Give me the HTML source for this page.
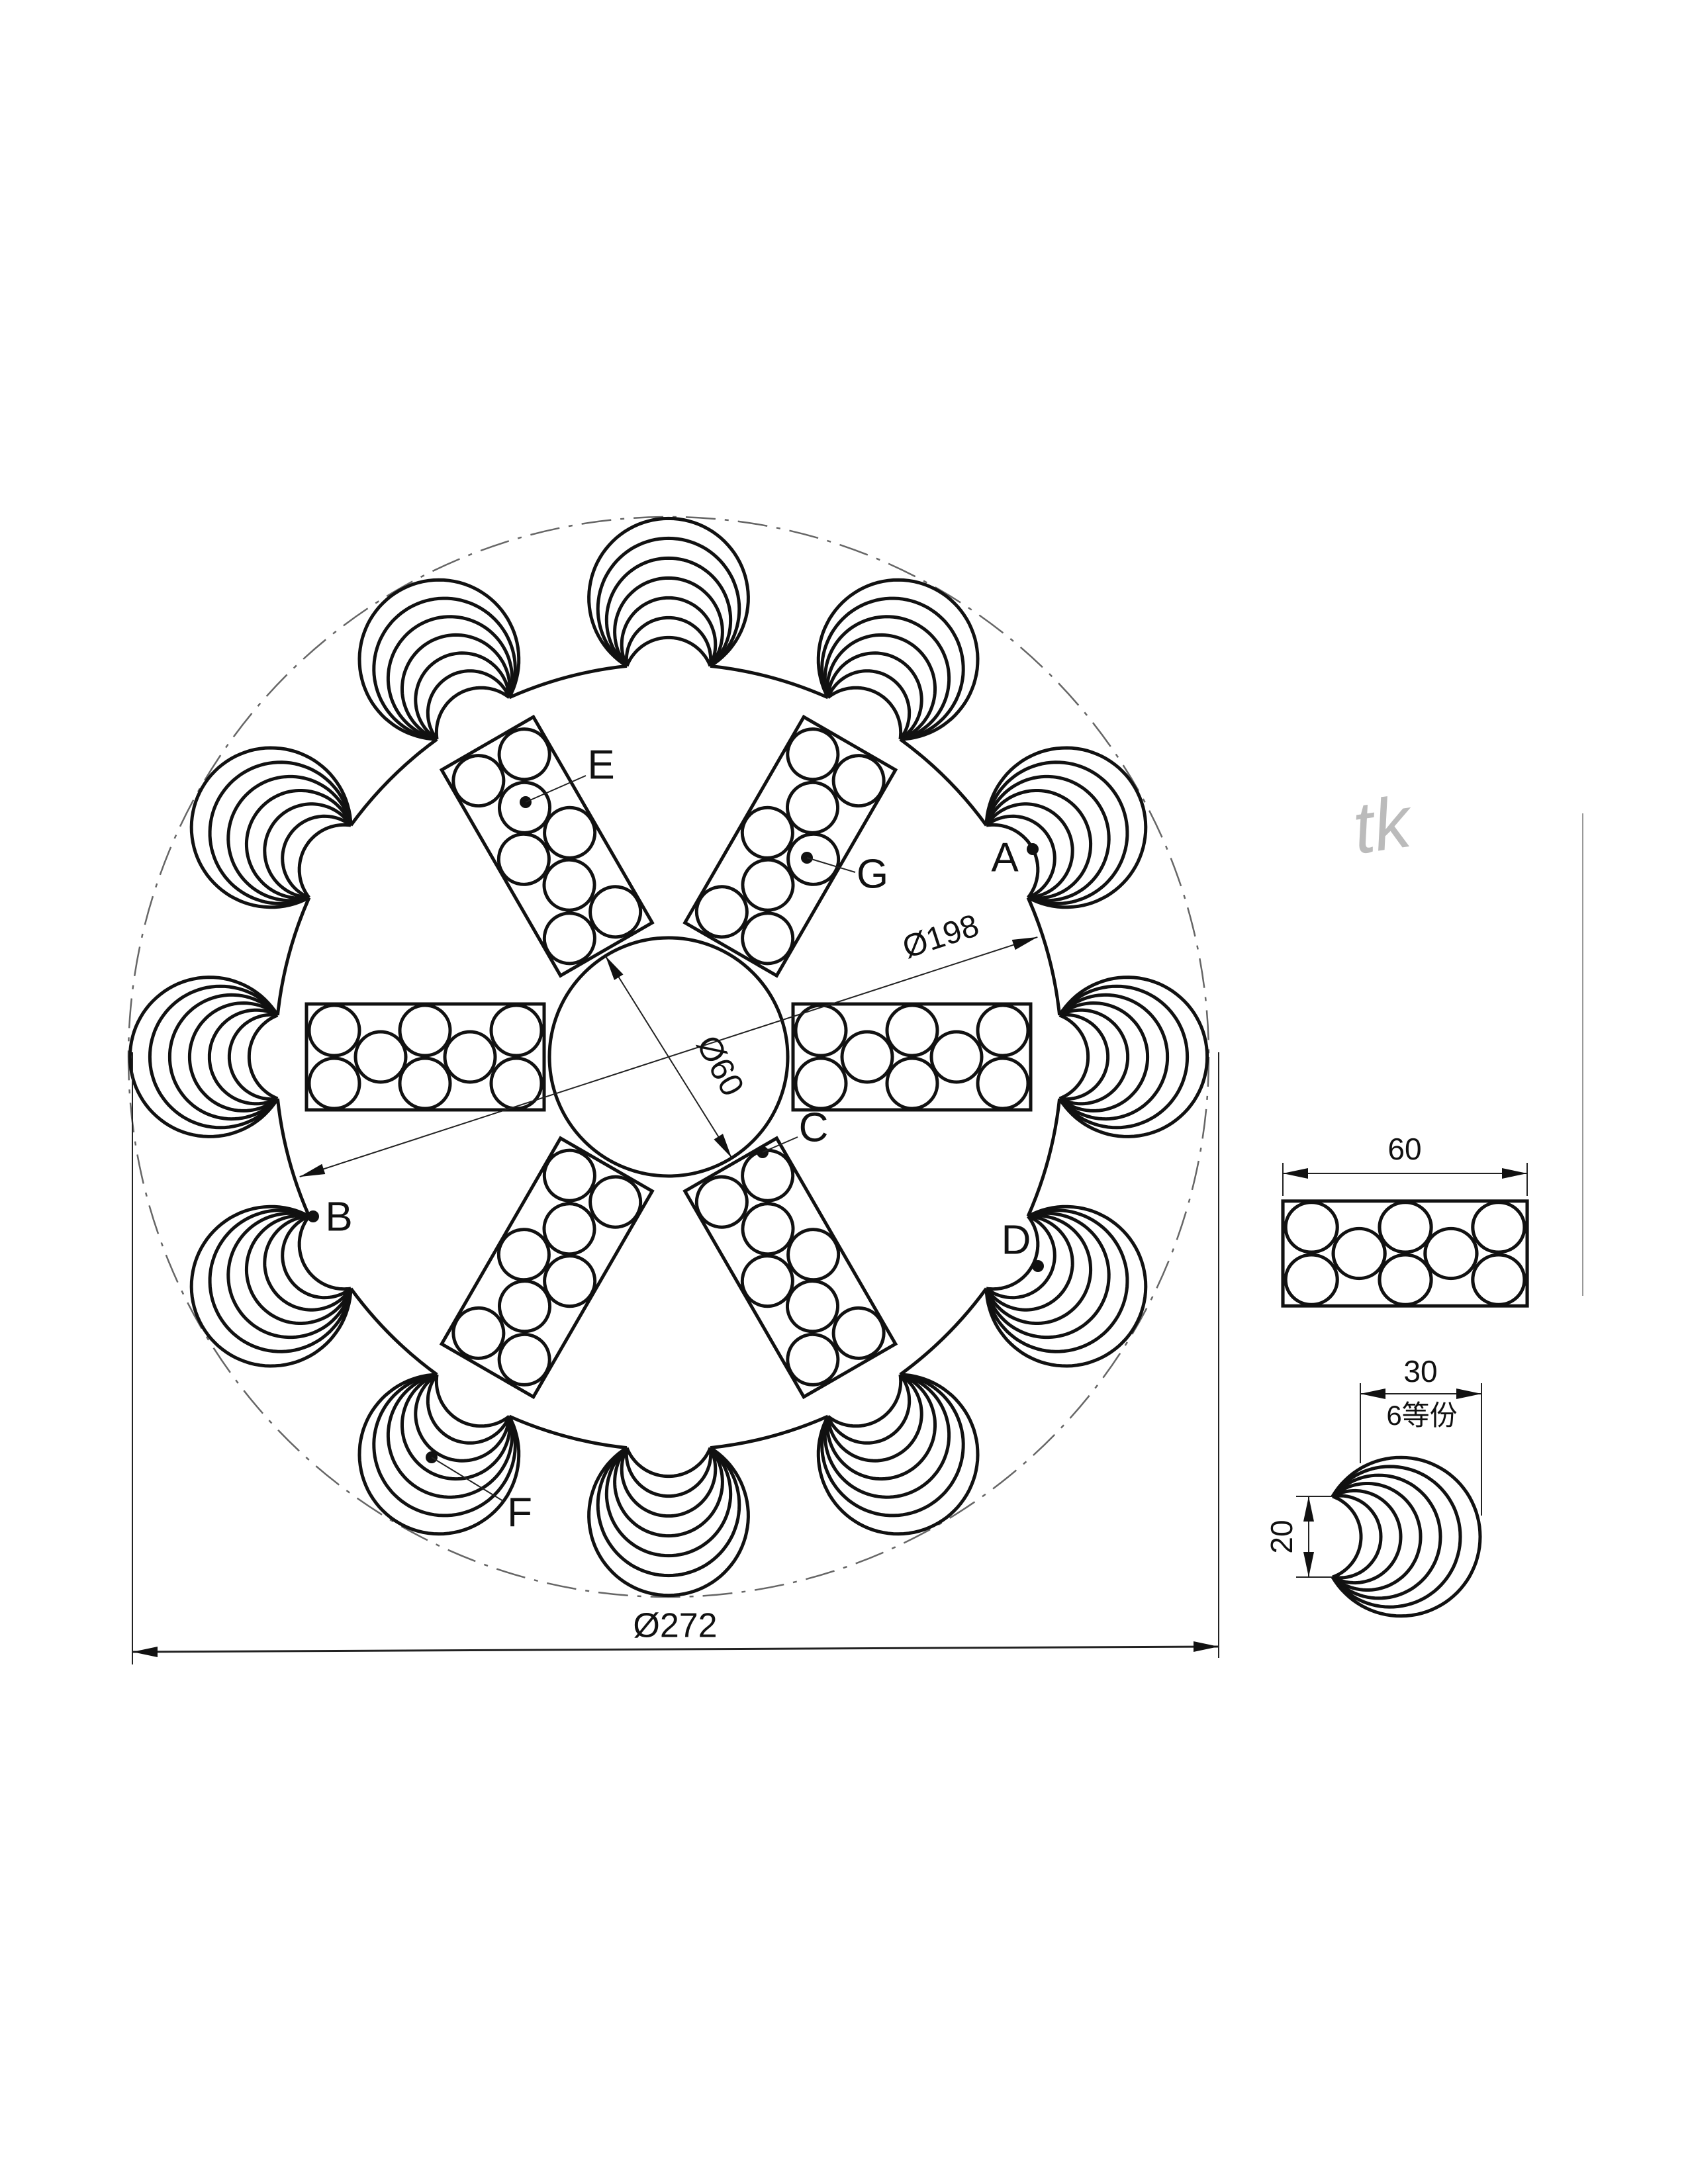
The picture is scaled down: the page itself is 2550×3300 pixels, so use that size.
<!DOCTYPE html>
<html>
<head>
<meta charset="utf-8">
<style>
html,body{margin:0;padding:0;background:#fff;}
svg{display:block;}
text{font-family:"Liberation Sans","Noto Sans CJK SC",sans-serif;fill:#111;}
</style>
</head>
<body>
<svg id="dwg" width="2550" height="3300" viewBox="0 0 2550 3300" xmlns="http://www.w3.org/2000/svg">
  <g id="geo" fill="none" stroke="#111" stroke-width="5"></g>
  <g id="dims"></g>
  <g id="labels"></g>
  <text x="2050" y="1290" font-size="110" fill="#bbb" style="fill:#bbb;font-style:italic" transform="rotate(-8 2050 1290)">tk</text>
  <line x1="2391" y1="1229" x2="2391" y2="1958" stroke="#999" stroke-width="2"/>
</svg>
<script>
// ---- drawing data ----
const spokeAngles = [0, 60, 120, 180, 240, 300];
const fanAngles = [-90, -60, -30, 0, 30, 60, 90, 120, 150, 180, 210, 240];
const fanSagittas = [43, 73, 103, 133, 163, 193, 223];
const spokeCircleS = [42, 42, 112, 180, 180, 247, 317, 317];
const spokeCircleT = [-40, 40, 0, -40, 40, 0, -40, 40];

const NS = "http://www.w3.org/2000/svg";
const CX = 1010, CY = 1597, R = 594, RD = 816, HUB = 180, HALF = 63;
const geo = document.getElementById('geo');
const dims = document.getElementById('dims');
const labels = document.getElementById('labels');
function mk(tag, attrs, parent){
  const e = document.createElementNS(NS, tag);
  for (const k in attrs) e.setAttribute(k, attrs[k]);
  parent.appendChild(e);
  return e;
}
function bulgePath(mx, my, ux, uy, a, h){
  const r = (a*a + h*h)/(2*h);
  const cx = mx + ux*(h - r), cy = my + uy*(h - r);
  const vx = -uy, vy = ux;
  const p1x = mx + vx*a, p1y = my + vy*a, p2x = mx - vx*a, p2y = my - vy*a;
  let a1 = Math.atan2(p1y-cy, p1x-cx), a2 = Math.atan2(p2y-cy, p2x-cx), au = Math.atan2(uy, ux);
  let d = a2 - a1; while (d < 0) d += 2*Math.PI;
  let du = au - a1; while (du < 0) du += 2*Math.PI;
  if (du > d) d = d - 2*Math.PI;
  let s = "";
  for (let i = 0; i <= 80; i++){
    const t = a1 + d*i/80;
    s += (i ? "L" : "M") + (cx + r*Math.cos(t)).toFixed(1) + " " + (cy + r*Math.sin(t)).toFixed(1);
  }
  return s;
}
function fan(mx, my, ux, uy, a, name){
  const g = mk('g', {}, geo);
  
  
  fanSagittas.forEach((h, i) => {
    const p = mk('path', {d: bulgePath(mx, my, ux, uy, a, h)}, g);
    
    
  });
}

const dc = mk('circle', {cx: CX, cy: CY, r: RD, stroke: '#666', 'stroke-width': 2.5, 'stroke-dasharray': '45 14 6 14'}, geo);



const del = Math.asin(HALF / R);
let mp = "";
fanAngles.forEach((deg, k) => {
  const t0 = deg*Math.PI/180 + del;
  const t1 = (fanAngles[(k+1) % fanAngles.length] + (k === fanAngles.length-1 ? 360 : 0))*Math.PI/180 - del;
  mp += "M" + (CX + R*Math.cos(t0)).toFixed(1) + " " + (CY + R*Math.sin(t0)).toFixed(1) +
        "A" + R + " " + R + " 0 0 1 " + (CX + R*Math.cos(t1)).toFixed(1) + " " + (CY + R*Math.sin(t1)).toFixed(1);
});
const mainPath = mk('path', {d: mp}, geo);



fanAngles.forEach((deg, k) => {
  const t = deg*Math.PI/180, ux = Math.cos(t), uy = Math.sin(t);
  const d = R*Math.cos(del);
  fan(CX + ux*d, CY + uy*d, ux, uy, HALF, 'scallop-fan-' + k);
});

const hub = mk('circle', {cx: CX, cy: CY, r: HUB}, geo);



function spokeContent(g, name){
  const rc = mk('rect', {x: 0, y: -80, width: 359, height: 160}, g);
  
  
  spokeCircleS.forEach((s, i) => {
    const c = mk('circle', {cx: s, cy: spokeCircleT[i], r: 38}, g);
    
    
  });
}
spokeAngles.forEach((deg, k) => {
  const g = mk('g', {transform: `translate(${CX},${CY}) rotate(${deg}) translate(188,0)`}, geo);
  
  
  spokeContent(g, 'spoke-' + k);
});

const dg = mk('g', {transform: 'translate(1938,1894) scale(1.028,0.99)'}, geo);


spokeContent(dg, 'detail-spoke');

fan(2013, 2322, 1, 0, 61, 'detail-fan');

// ---- dimensions ----
function line(x1, y1, x2, y2, name, w, col){
  const l = mk('line', {x1, y1, x2, y2, stroke: col || '#222', 'stroke-width': w || 2.5}, dims);
  
  
  return l;
}
function arrow(x, y, ang, name){
  const t = ang*Math.PI/180, L = 38, W = 8;
  const bx = x - L*Math.cos(t), by = y - L*Math.sin(t);
  const px = -Math.sin(t)*W, py = Math.cos(t)*W;
  const p = mk('polygon', {points: `${x},${y} ${bx+px},${by+py} ${bx-px},${by-py}`, fill: '#111'}, dims);
  
  
}
function txt(x, y, s, size, name, rot, parent){
  const e = mk('text', {x, y, 'font-size': size, 'text-anchor': 'middle', 'dominant-baseline': 'middle'}, parent || dims);
  if (rot) e.setAttribute('transform', `rotate(${rot} ${x} ${y})`);
  e.textContent = s;
  
  
  return e;
}
// Ø272
line(200, 1590, 200, 2515, 'dia272-ext-left', 2);
line(1841, 1590, 1841, 2505, 'dia272-ext-right', 2);
line(200, 2496, 1841, 2488, 'dia272-dim-line', 3);
arrow(200, 2496, 180, 'dia272-arrow-left');
arrow(1841, 2488, 0, 'dia272-arrow-right');
txt(1020, 2460, 'Ø272', 52, 'dia272-label');
// Ø198
{
  const t = -18*Math.PI/180;
  const x1 = CX - 586*Math.cos(t), y1 = CY - 586*Math.sin(t), x2 = CX + 586*Math.cos(t), y2 = CY + 586*Math.sin(t);
  line(x1, y1, x2, y2, 'dia198-dim-line', 2);
  arrow(x1, y1, 162, 'dia198-arrow-left');
  arrow(x2, y2, -18, 'dia198-arrow-right');
  txt(1422, 1418, 'Ø198', 48, 'dia198-label', -18);
}
// Ø60
{
  const t = 58*Math.PI/180;
  const x1 = CX - HUB*Math.cos(t), y1 = CY - HUB*Math.sin(t), x2 = CX + HUB*Math.cos(t), y2 = CY + HUB*Math.sin(t);
  line(x1, y1, x2, y2, 'dia60-dim-line', 2);
  arrow(x1, y1, 238, 'dia60-arrow-top');
  arrow(x2, y2, 58, 'dia60-arrow-bottom');
  txt(1085, 1612, 'Ø60', 50, 'dia60-label', 62);
}
// detail 60
line(1938, 1757, 1938, 1807, 'detail60-ext-left', 2);
line(2307, 1757, 2307, 1807, 'detail60-ext-right', 2);
line(1938, 1773, 2307, 1773, 'detail60-dim-line', 2);
arrow(1938, 1773, 180, 'detail60-arrow-left');
arrow(2307, 1773, 0, 'detail60-arrow-right');
txt(2122, 1740, '60', 46, 'detail60-label');
// detail 30
line(2055, 2090, 2055, 2211, 'detail30-ext-left', 2);
line(2238, 2090, 2238, 2290, 'detail30-ext-right', 2);
line(2055, 2106, 2238, 2106, 'detail30-dim-line', 2);
arrow(2055, 2106, 180, 'detail30-arrow-left');
arrow(2238, 2106, 0, 'detail30-arrow-right');
txt(2146, 2076, '30', 46, 'detail30-label');
txt(2148, 2142, '6等份', 42, 'detail-six-divisions-label');
// detail 20
line(1958, 2261, 2013, 2261, 'detail20-ext-top', 2);
line(1958, 2383, 2013, 2383, 'detail20-ext-bottom', 2);
line(1977, 2261, 1977, 2383, 'detail20-dim-line', 2);
arrow(1977, 2261, -90, 'detail20-arrow-top');
arrow(1977, 2383, 90, 'detail20-arrow-bottom');
txt(1940, 2322, '20', 46, 'detail20-label', -90);

// ---- point labels ----
const ptNames = ['A','B','C','D','E','F','G'];
const ptDotX = [1560, 473, 1152, 1568, 794, 652, 1219];
const ptDotY = [1283, 1838, 1741, 1913, 1212, 2202, 1296];
const ptTxtX = [1518, 512, 1229, 1535, 908, 785, 1318];
const ptTxtY = [1300, 1843, 1708, 1878, 1160, 2290, 1325];
const ptLeadX = [null, null, 1205, null, 885, 760, 1292];
const ptLeadY = [null, null, 1718, null, 1172, 2268, 1318];
ptNames.forEach((n, i) => {
  const d = mk('circle', {cx: ptDotX[i], cy: ptDotY[i], r: 9, fill: '#111'}, labels);
  
  
  if (ptLeadX[i] !== null){
    const l = mk('line', {x1: ptDotX[i], y1: ptDotY[i], x2: ptLeadX[i], y2: ptLeadY[i], stroke: '#222', 'stroke-width': 2}, labels);
    
    
  }
  txt(ptTxtX[i], ptTxtY[i], n, 62, 'point-' + n.toLowerCase() + '-label', 0, labels);
});
</script>
</body>
</html>
